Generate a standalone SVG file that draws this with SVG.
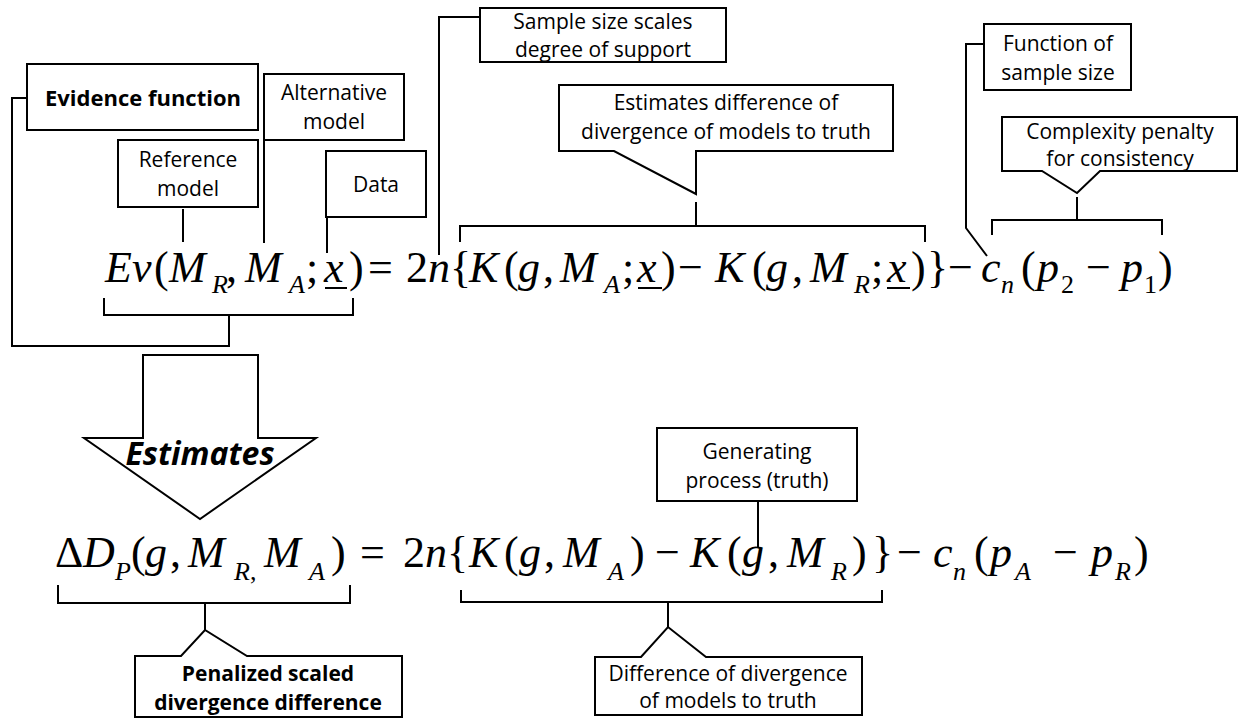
<svg xmlns="http://www.w3.org/2000/svg" width="1239" height="719" viewBox="0 0 1239 719">
<style>
.box{fill:#fff;stroke:#000;stroke-width:2}
.ln{fill:none;stroke:#000;stroke-width:2}
.lbl{font-family:"Open Sans","Liberation Sans",sans-serif;font-size:21px;text-anchor:middle;fill:#000}
.b{font-weight:bold}
.eq{font-family:"Liberation Serif","Times New Roman",serif;font-size:44px;fill:#000}
.i{font-style:italic}
.s{font-size:26px}
</style>
<rect width="1239" height="719" fill="#fff"/>
<g id="connectors">
<path class="ln" d="M27,98 H12 V346 H229 V315"/>
<path class="ln" d="M104,298 V315 H353 V298"/>
<path class="ln" d="M264,140 V243"/>
<path class="ln" d="M183,209 V242"/>
<path class="ln" d="M327,217 V253"/>
<path class="ln" d="M480,17 H439 V255"/>
<path class="ln" d="M696,202 V226"/>
<path class="ln" d="M460,242 V226 H925 V242"/>
<path class="ln" d="M984,44 H966 V228 L987,256"/>
<path class="ln" d="M1077,197 V220"/>
<path class="ln" d="M992,235 V220 H1162 V235"/>
<path class="ln" d="M58,585 V603 H350 V585"/>
<path class="ln" d="M205,603 V630"/>
<path class="ln" d="M758,501 V547"/>
<path class="ln" d="M461,590 V602 H882 V590"/>
<path class="ln" d="M668,602 V627"/>
</g>
<g id="evidence-function">
<rect class="box" x="27" y="64" width="231" height="66"/>
<text class="lbl b" x="143" y="106" style="font-size:22px">Evidence function</text>
</g>
<g id="alternative-model">
<rect class="box" x="264" y="74" width="140" height="66"/>
<text class="lbl" x="334" y="100">Alternative</text>
<text class="lbl" x="334" y="129">model</text>
</g>
<g id="reference-model">
<rect class="box" x="118" y="140" width="140" height="67"/>
<text class="lbl" x="188" y="167">Reference</text>
<text class="lbl" x="188" y="196">model</text>
</g>
<g id="data">
<rect class="box" x="326" y="151" width="100" height="66"/>
<text class="lbl" x="376" y="192">Data</text>
</g>
<g id="sample-size">
<rect class="box" x="480" y="8" width="246" height="54"/>
<text class="lbl" x="603" y="29">Sample size scales</text>
<text class="lbl" x="603" y="57">degree of support</text>
</g>
<g id="estimates-difference">
<path class="box" d="M559,85 H893 V151 H696 V194 L614,151 H559 Z"/>
<text class="lbl" x="726" y="110">Estimates difference of</text>
<text class="lbl" x="726" y="139">divergence of models to truth</text>
</g>
<g id="function-of-sample-size">
<rect class="box" x="984" y="24" width="147" height="66"/>
<text class="lbl" x="1058" y="51">Function of</text>
<text class="lbl" x="1058" y="80">sample size</text>
</g>
<g id="complexity-penalty">
<path class="box" d="M1002,117 H1237 V171 H1100 L1077,193 L1042,171 H1002 Z"/>
<text class="lbl" x="1120" y="139">Complexity penalty</text>
<text class="lbl" x="1120" y="166">for consistency</text>
</g>
<g id="equation-evidence">
<text class="eq" y="282"><tspan class="i" x="105">Ev</tspan><tspan x="154">(</tspan><tspan class="i" x="169">M</tspan><tspan class="i s" x="212" y="293">R</tspan><tspan x="226" y="282">,</tspan><tspan class="i" x="245">M</tspan><tspan class="i s" x="289" y="293">A</tspan><tspan x="306" y="282">;</tspan><tspan class="i" x="324">x</tspan><tspan x="349">)</tspan><tspan x="368">=</tspan><tspan x="406">2</tspan><tspan class="i" x="428">n</tspan><tspan x="450">{</tspan><tspan class="i" x="469">K</tspan><tspan x="504">(</tspan><tspan class="i" x="518">g</tspan><tspan x="543">,</tspan><tspan class="i" x="560">M</tspan><tspan class="i s" x="604" y="293">A</tspan><tspan x="622" y="282">;</tspan><tspan class="i" x="637">x</tspan><tspan x="661">)</tspan><tspan x="678">−</tspan><tspan class="i" x="715">K</tspan><tspan x="752">(</tspan><tspan class="i" x="766">g</tspan><tspan x="792">,</tspan><tspan class="i" x="810">M</tspan><tspan class="i s" x="854" y="293">R</tspan><tspan x="871" y="282">;</tspan><tspan class="i" x="887">x</tspan><tspan x="911">)</tspan><tspan x="927">}</tspan><tspan x="948">−</tspan><tspan class="i" x="981">c</tspan><tspan class="i s" x="1001" y="293">n</tspan><tspan x="1021" y="282">(</tspan><tspan class="i" x="1037">p</tspan><tspan class="s" x="1061" y="293">2</tspan><tspan x="1086" y="282">−</tspan><tspan class="i" x="1121">p</tspan><tspan class="s" x="1144" y="293">1</tspan><tspan x="1158" y="282">)</tspan></text>
<path class="ln" d="M325,288 H347 M638,288 H662 M887,288 H910"/>
</g>
<g id="estimates-arrow">
<path class="box" d="M143,355 H258 V438 H316 L200,519 L84,438 H143 Z"/>
<text class="lbl b i" x="200" y="465" style="font-size:32px">Estimates</text>
</g>
<g id="generating-process">
<rect class="box" x="657" y="428" width="200" height="73"/>
<text class="lbl" x="757" y="459">Generating</text>
<text class="lbl" x="757" y="488">process (truth)</text>
</g>
<g id="equation-divergence">
<text class="eq" y="567"><tspan x="55">Δ</tspan><tspan class="i" x="83">D</tspan><tspan class="i s" x="115" y="580">P</tspan><tspan x="131" y="567">(</tspan><tspan class="i" x="145">g</tspan><tspan x="170">,</tspan><tspan class="i" x="188">M</tspan><tspan class="i s" x="234" y="580">R</tspan><tspan class="s" x="250" y="580">,</tspan><tspan class="i" x="264" y="567">M</tspan><tspan class="i s" x="309" y="580">A</tspan><tspan x="331" y="567">)</tspan><tspan x="360">=</tspan><tspan x="403">2</tspan><tspan class="i" x="425">n</tspan><tspan x="447">{</tspan><tspan class="i" x="469">K</tspan><tspan x="504">(</tspan><tspan class="i" x="519">g</tspan><tspan x="544">,</tspan><tspan class="i" x="563">M</tspan><tspan class="i s" x="608" y="580">A</tspan><tspan x="630" y="567">)</tspan><tspan x="655">−</tspan><tspan class="i" x="690">K</tspan><tspan x="727">(</tspan><tspan class="i" x="742">g</tspan><tspan x="768">,</tspan><tspan class="i" x="787">M</tspan><tspan class="i s" x="831" y="580">R</tspan><tspan x="852" y="567">)</tspan><tspan x="872">}</tspan><tspan x="897">−</tspan><tspan class="i" x="933">c</tspan><tspan class="i s" x="953" y="580">n</tspan><tspan x="974" y="567">(</tspan><tspan class="i" x="990">p</tspan><tspan class="i s" x="1015" y="580">A</tspan><tspan x="1053" y="567">−</tspan><tspan class="i" x="1091">p</tspan><tspan class="i s" x="1115" y="580">R</tspan><tspan x="1134" y="567">)</tspan></text>
</g>
<g id="penalized-divergence">
<path class="box" d="M135,656 H181 L205,630 L247,656 H402 V717 H135 Z"/>
<text class="lbl b" x="268" y="681">Penalized scaled</text>
<text class="lbl b" x="268" y="710">divergence difference</text>
</g>
<g id="difference-divergence">
<path class="box" d="M595,657 H641 L668,627 L706,657 H862 V715 H595 Z"/>
<text class="lbl" x="728" y="681">Difference of divergence</text>
<text class="lbl" x="728" y="708">of models to truth</text>
</g>
</svg>
